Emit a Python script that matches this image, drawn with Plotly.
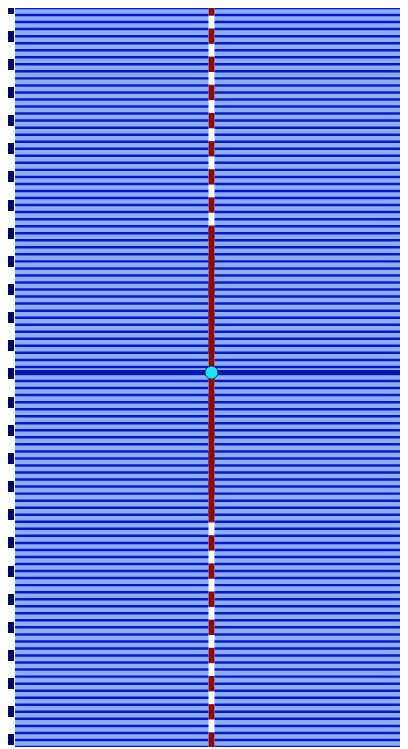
import plotly.graph_objects as go

# ---- data ----
bar_positions = list(range(105))
bar_values = [2.4, 2.4, 2.4, 2.4, 2.4, 2.4, 2.4, 2.4, 2.4, 2.4, 2.4, 2.4, 2.4, 2.4, 2.4,
              2.4, 2.4, 2.4, 2.4, 2.4, 2.4, 2.4, 2.4, 2.4, 2.4, 2.4, 2.4, 2.4, 2.4, 2.4,
              2.4, 2.4, 2.4, 2.4, 2.4, 2.4, 2.4, 2.4, 2.4, 2.4, 2.4, 2.4, 2.4, 2.4, 2.4,
              2.4, 2.4, 2.4, 2.4, 2.4, 2.4, 2.4, 2.4, 2.4, 2.4, 2.4, 2.4, 2.4, 2.4, 2.4,
              2.4, 2.4, 2.4, 2.4, 2.4, 2.4, 2.4, 2.4, 2.4, 2.4, 2.4, 2.4, 2.4, 2.4, 2.4,
              2.4, 2.4, 2.4, 2.4, 2.4, 2.4, 2.4, 2.4, 2.4, 2.4, 2.4, 2.4, 2.4, 2.4, 2.4,
              2.4, 2.4, 2.4, 2.4, 2.4, 2.4, 2.4, 2.4, 2.4, 2.4, 2.4, 2.4, 2.4, 2.4, 2.4]
bar_base = -1.2
tick_positions = [104.5, 100.5, 96.5, 92.5, 88.5, 84.5, 80.5, 76.5, 72.5, 68.5,
                  64.5, 60.5, 56.5, 52.5, 48.5, 44.5, 40.5, 36.5, 32.5, 28.5,
                  24.5, 20.5, 16.5, 12.5, 8.5, 4.5, 0.5]
center_x = 0
point_x = [0]
point_y = [52.7]
point_err_y = [20.5]
point_err_x = [3]
y_range = [-0.5, 104.5]

fig = go.Figure()

fig.add_trace(go.Bar(
    y=bar_positions, x=bar_values, base=bar_base, orientation="h",
    marker=dict(color="#8aaeff", line=dict(color="#0a1cb8", width=1.5)),
    showlegend=False, hoverinfo="skip",
))

# vertical white line through the centre
fig.add_trace(go.Scatter(
    x=[center_x, center_x], y=y_range, mode="lines",
    line=dict(color="white", width=6), showlegend=False, hoverinfo="skip",
))
# dark red tick segments on the centre line
fig.add_trace(go.Scatter(
    x=[center_x] * len(tick_positions), y=tick_positions, mode="markers",
    marker=dict(symbol="line-ns", size=11, color="#8b0a0a",
                line=dict(color="#8b0a0a", width=6)),
    showlegend=False, hoverinfo="skip",
))

# point with error bars
fig.add_trace(go.Scatter(
    x=point_x, y=point_y, mode="markers",
    marker=dict(color="#19e6f0", size=13, line=dict(color="#203060", width=1)),
    error_y=dict(type="data", array=point_err_y, color="#8b0a0a", thickness=6, width=0),
    error_x=dict(type="data", array=point_err_x, color="#0018b0", thickness=5, width=0),
    showlegend=False,
))

fig.update_layout(
    width=400, height=741,
    margin=dict(l=7, r=0, t=0, b=2),
    paper_bgcolor="white",
    plot_bgcolor="#3050dc",
    bargap=0.14,
    xaxis=dict(range=[-1, 1], showgrid=False, zeroline=False, showticklabels=False,
               ticks="", automargin=False),
    yaxis=dict(range=y_range, showgrid=False, zeroline=False,
               showticklabels=False, tickmode="array", tickvals=tick_positions,
               ticks="outside", ticklen=7, tickwidth=11, tickcolor="#00086e",
               automargin=False),
)

fig.write_html("out.html", post_script="document.body.style.overflow='hidden';")
